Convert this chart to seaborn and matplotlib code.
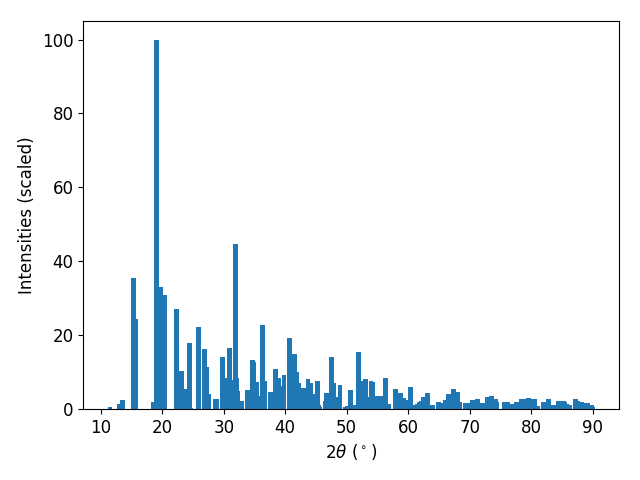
import numpy as np
import matplotlib
matplotlib.use('Agg')
import matplotlib.pyplot as plt
import seaborn as sns

# peak positions (2theta, degrees) and scaled intensities
two_theta = [11.5, 13.1, 13.6, 15.28, 15.65, 18.5, 19.0, 19.65, 20.3,
             22.3, 23.1, 23.9, 24.4, 24.55, 25.85, 26.8, 27.2, 27.5, 28.6, 28.75,
             29.8, 30.1, 30.9, 31.05, 31.9, 32.05, 32.2, 32.85, 33.8, 34.6,
             34.8, 35.3, 35.45, 36.25, 36.6, 37.55, 38.35, 38.85, 39.3, 39.8,
             40.65, 41.45, 41.8, 42.1, 42.9, 43.7, 44.05, 44.4, 45.2, 45.45,
             45.6, 46.5, 46.65, 47.45, 47.8, 48.1, 48.9, 49.85, 50.1, 50.6,
             51.1, 51.85, 52.2, 53.0, 53.45, 53.95, 54.15, 54.65, 55.0, 55.45,
             56.25, 56.75, 57.9, 58.7, 59.2, 59.5, 60.3, 60.8, 61.3, 61.5,
             61.8, 62.1, 62.5, 63.2, 64.0, 64.9, 65.2, 66.0, 66.2, 66.5,
             67.3, 68.1, 68.3, 69.3, 69.6, 69.9, 70.4, 71.2, 72.1, 72.9,
             73.5, 74.2, 74.3, 75.6, 76.1, 76.9, 77.55, 78.35, 78.8, 79.5,
             79.85, 80.6, 81.05, 82.0, 82.8, 83.6, 84.4, 85.3, 85.5, 85.8,
             86.25, 87.15, 87.6, 88.2, 89.05, 89.15, 89.75, 89.9]
intensity = [0.5, 1.4, 2.5, 35.5, 24.3, 2.0, 100.0, 33.0, 30.9,
             27.1, 10.3, 5.4, 17.9, 0.3, 22.2, 16.3, 11.4, 4.1, 2.7, 2.6,
             14.1, 8.4, 16.5, 7.9, 44.7, 8.4, 4.9, 2.2, 5.1, 13.3,
             12.6, 7.3, 3.5, 22.7, 7.6, 4.7, 10.8, 8.4, 6.2, 9.2,
             19.2, 14.9, 10.0, 7.0, 5.7, 8.1, 7.0, 4.1, 7.6, 1.0,
             0.5, 2.2, 4.3, 14.1, 7.0, 3.2, 6.5, 0.5, 0.8, 5.1,
             1.0, 15.4, 7.6, 8.1, 3.2, 7.6, 7.4, 3.5, 3.2, 3.5,
             8.4, 1.4, 5.4, 4.3, 3.0, 2.4, 5.9, 1.0, 0.3, 1.3,
             1.9, 2.2, 3.2, 4.3, 1.1, 1.9, 1.6, 2.4, 2.4, 4.1,
             5.4, 4.6, 1.9, 1.6, 0.8, 1.6, 2.4, 2.7, 1.6, 3.2,
             3.5, 2.7, 1.9, 1.9, 1.9, 1.4, 1.9, 2.7, 2.7, 3.0,
             2.7, 2.7, 0.8, 1.9, 2.7, 1.1, 2.2, 2.2, 1.9, 1.4,
             1.1, 2.7, 2.2, 1.9, 1.6, 1.6, 1.1, 0.5]

sns.set_theme(style='ticks', rc={'font.size': 12, 'axes.labelsize': 12,
                                 'xtick.labelsize': 12, 'ytick.labelsize': 12,
                                 'axes.edgecolor': 'black', 'axes.linewidth': 0.8,
                                 'text.color': 'black', 'axes.labelcolor': 'black',
                                 'xtick.color': 'black', 'ytick.color': 'black',
                                 'xtick.major.size': 3.5, 'ytick.major.size': 3.5,
                                 'xtick.major.width': 0.8, 'ytick.major.width': 0.8,
                                 'patch.edgecolor': 'none', 'patch.linewidth': 0})
plt.rcParams['font.family'] = ['DejaVu Sans']

blue = sns.color_palette('tab10')[0]

fig, ax = plt.subplots(figsize=(6.4, 4.8), dpi=100)
ax.bar(two_theta, intensity, width=0.8, color=blue, edgecolor='none', linewidth=0)
ax.set_xlabel(r'2$\theta$ ($^\circ$)')
ax.set_ylabel('Intensities (scaled)')
ax.set_xticks(np.arange(10, 91, 10))
fig.subplots_adjust(left=0.13, right=0.967, top=0.956, bottom=0.148)
fig.savefig('out.png', dpi=100)
